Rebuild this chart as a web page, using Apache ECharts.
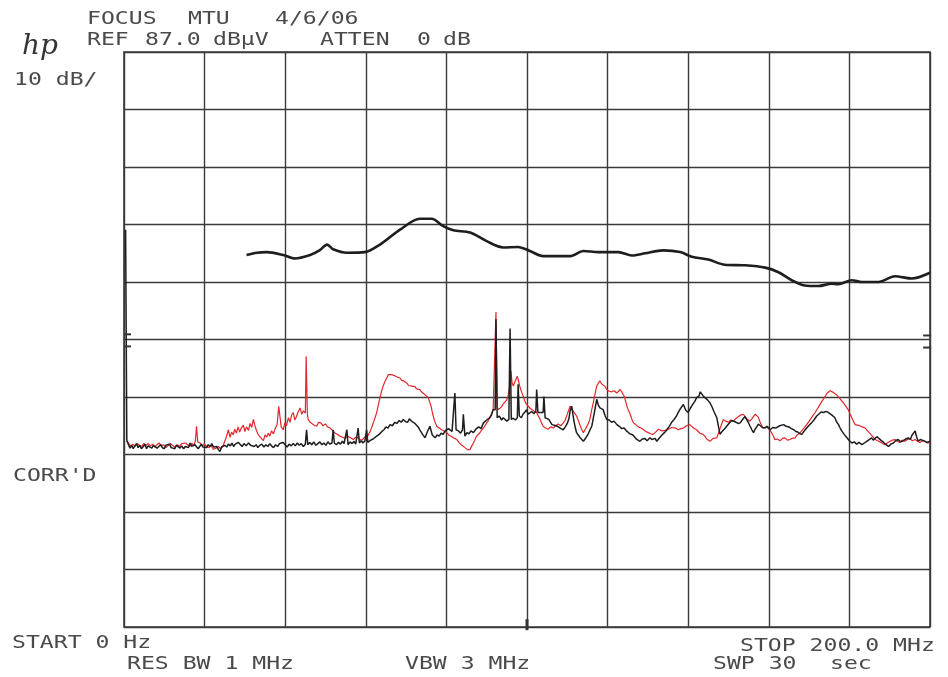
<!DOCTYPE html>
<html>
<head>
<meta charset="utf-8">
<script src="https://cdn.jsdelivr.net/npm/echarts@6/dist/echarts.min.js"></script>
<style>
  html, body { margin: 0; padding: 0; background: #fff; }
  #chart { width: 948px; height: 677px; }
</style>
</head>
<body>
<div id="chart"></div>
<script>
// analyzer settings
let refLevel = 87;      // dBuV at top line
let dbPerDiv = 10;
let startMHz = 0;
let stopMHz = 200;

// [MHz, dBuV]
let upperTrace = [
  [30.4,51.7],[33,52.1],[35.4,52.2],[39.5,51.7],[42.4,51.1],[46.2,51.7],[48.5,52.5],[50.4,53.5],
  [51.9,52.7],[55.3,52.1],[59.8,52.2],[63.5,53.5],[68.5,56.1],[73.4,58.0],[76.4,58.0],[79.2,56.7],
  [81.7,56.0],[85.9,55.6],[90.0,54.1],[94.1,53.0],[97.8,53.1],[100.7,52.4],[104.0,51.5],[110.7,51.5],
  [114.0,52.4],[117.7,52.2],[122.7,52.2],[126.0,51.6],[129.3,52.0],[133.8,52.5],[138.0,52.2],[140.9,51.4],
  [145.0,50.9],[149.1,50.0],[154.1,49.9],[159.1,49.5],[162.4,48.7],[165.7,47.3],[168.9,46.4],[172.3,46.3],
  [175.6,46.7],[177.2,46.6],[180.6,47.3],[183.1,47.0],[187.2,47.0],[191.3,48.0],[195.5,47.6],[200,48.6]
];

let blackTrace = [
  [0.4,56.1],[0.7,19.5],[1.1,18.7],[1.5,18.1],[1.9,18.6],[2.3,18.0],[2.7,18.5],[3.1,18.9],[3.5,18.2],
  [3.9,18.6],[4.3,18.0],[4.8,18.4],[5.2,18.8],[5.6,18.0],[6.0,18.5],[6.4,18.7],[6.9,18.1],[7.3,18.6],
  [7.7,18.9],[8.2,18.1],[8.6,18.4],[9.1,18.7],[9.5,18.2],[10.0,18.0],[10.4,18.6],[10.8,18.3],[11.3,18.8],
  [11.7,18.2],[12.1,18.5],[12.6,18.0],[13.0,18.6],[13.4,18.3],[13.9,18.1],[14.3,18.5],[14.8,18.0],[15.2,18.4],
  [15.6,18.7],[16.0,18.2],[16.4,19.0],[16.8,18.4],[17.2,18.2],[17.6,18.7],[18.0,18.5],[18.4,18.0],[18.8,18.4],
  [19.2,18.8],[19.6,18.3],[20.0,18.6],[20.5,18.2],[20.9,18.7],[21.4,18.4],[21.8,18.9],[22.2,18.3],[22.6,18.1],
  [23.0,18.4],[23.4,17.9],[23.8,17.5],[24.2,18.3],[24.6,18.0],[25.0,18.6],[25.5,18.3],[25.9,18.8],[26.4,18.5],
  [26.8,19.0],[27.2,18.4],[27.6,18.8],[28.0,18.5],[28.4,19.1],[28.8,18.8],[29.3,18.4],[29.8,18.9],[30.3,18.5],
  [30.9,19.0],[31.4,18.6],[31.8,18.9],[32.3,18.4],[32.8,18.7],[33.2,18.2],[33.7,18.6],[34.2,18.8],[34.7,18.3],
  [35.2,18.7],[35.7,18.4],[36.2,18.9],[36.6,18.5],[37.1,18.2],[37.6,18.7],[38.1,18.4],[38.6,18.9],[39.0,18.6],
  [39.5,19.1],[40.0,18.7],[40.5,18.3],[41.0,18.8],[41.5,18.5],[42.0,18.9],[42.5,18.5],[43.0,19.0],[43.5,18.6],
  [44.0,18.9],[44.5,18.4],[45.0,18.8],[45.3,21.3],[45.6,18.7],[46.1,19.1],[46.6,18.7],[47.1,19.2],[47.6,18.6],
  [48.1,18.9],[48.6,19.2],[49.1,18.7],[49.6,19.0],[50.1,18.6],[50.6,19.2],[51.1,18.8],[51.6,19.0],[51.9,21.3],
  [52.2,19.0],[52.7,18.7],[53.2,19.1],[53.7,18.8],[54.2,19.3],[54.6,18.9],[55.0,18.7],[55.3,21.3],[55.6,18.7],
  [56.1,19.2],[56.6,18.9],[57.1,19.3],[57.5,18.8],[57.8,19.0],[58.1,21.6],[58.4,19.0],[58.9,19.4],[59.3,19.0],
  [59.8,19.4],[60.2,21.3],[60.5,19.1],[61.0,19.4],[61.4,19.2],[61.8,19.7],[62.2,19.9],[62.7,20.2],[63.3,20.5],
  [64.0,21.0],[64.5,21.3],[65.0,21.8],[65.5,21.6],[66.0,22.2],[66.6,22.0],[67.2,22.6],[67.7,22.4],[68.3,22.9],
  [68.8,22.6],[69.3,23.1],[69.9,22.7],[70.4,22.6],[70.8,23.2],[71.1,23.3],[71.5,22.7],[71.8,22.8],[72.2,22.4],
  [72.6,22.1],[73.0,21.8],[73.4,21.3],[74.1,20.5],[74.7,19.9],[75.3,21.0],[75.9,21.9],[76.5,20.4],[77.2,19.9],
  [77.7,20.4],[78.2,20.2],[78.7,20.7],[79.2,20.5],[79.7,21.1],[80.1,21.0],[80.5,21.5],[80.9,21.3],[81.4,21.0],
  [81.8,21.3],[82.1,27.7],[82.4,21.3],[83.0,21.1],[83.5,20.7],[84.0,21.3],[84.2,24.0],[84.6,20.2],[85.1,20.8],
  [85.6,20.6],[86.1,21.1],[86.7,20.8],[87.3,21.4],[88.0,21.8],[88.6,21.5],[89.2,22.5],[89.6,22.2],[90.0,23.0],
  [90.4,22.7],[90.8,23.4],[91.2,23.9],[91.6,24.8],[92.1,24.8],[92.3,40.5],[92.6,23.4],[93.1,23.7],[93.7,23.0],
  [94.1,23.4],[94.5,23.1],[95.0,22.8],[95.5,23.1],[95.8,38.9],[96.1,23.1],[96.6,23.3],[97.1,23.0],[97.6,23.4],
  [97.8,29.2],[98.1,23.7],[98.6,23.4],[99.0,24.0],[99.5,24.4],[99.9,24.8],[100.3,24.0],[100.6,24.2],[101.2,24.5],
  [101.7,24.1],[102.2,24.5],[102.4,28.3],[102.7,24.3],[103.2,24.3],[103.6,24.0],[104.0,24.3],[104.2,27.1],
  [104.5,23.4],[104.9,23.4],[105.4,23.1],[105.8,22.9],[106.2,22.2],[106.5,22.5],[107.2,22.0],[107.8,21.8],
  [108.4,21.5],[109.0,21.3],[109.5,21.8],[110.0,22.4],[110.4,23.2],[110.7,24.6],[111.1,25.4],[111.6,23.0],
  [112.0,21.6],[112.3,20.8],[112.8,20.3],[113.2,19.9],[113.6,19.6],[114.0,19.3],[114.4,19.7],[114.8,20.1],
  [115.2,20.6],[115.6,20.8],[116.1,22.0],[116.5,23.5],[116.9,25.0],[117.3,26.6],[117.7,25.6],[118.1,25.1],
  [118.5,25.4],[118.9,24.8],[119.4,23.7],[119.8,23.1],[120.4,23.0],[121.0,22.6],[121.6,22.8],[122.3,22.2],
  [122.9,21.9],[123.5,21.5],[124.1,21.6],[124.7,21.1],[125.5,20.6],[126.3,20.4],[127.1,19.7],[128.0,19.3],
  [128.6,19.7],[129.2,19.8],[129.8,19.4],[130.5,19.9],[131.0,19.6],[131.4,19.4],[131.8,19.8],[132.2,19.3],
  [132.9,19.9],[133.5,20.4],[134.1,20.8],[134.7,21.3],[135.3,21.9],[135.9,22.6],[136.5,23.1],[137.1,23.7],
  [137.6,24.4],[138.0,24.9],[138.4,25.3],[138.8,25.7],[139.4,24.7],[140.0,24.3],[140.5,25.0],[141.0,25.6],
  [141.6,26.2],[142.1,26.9],[142.7,27.2],[143.0,27.9],[143.3,27.7],[143.8,27.1],[144.3,26.8],[144.8,26.5],
  [145.4,26.0],[145.9,25.3],[146.3,24.6],[146.7,24.0],[147.1,23.4],[147.5,21.9],[147.9,20.5],[148.3,20.9],
  [148.7,21.0],[149.2,21.6],[149.6,21.9],[150.0,22.3],[150.4,22.6],[150.8,22.9],[151.2,23.1],[151.6,22.7],
  [152.0,22.8],[152.4,22.4],[152.9,22.5],[153.3,22.9],[153.7,23.0],[154.1,23.6],[154.5,23.4],[154.9,22.6],
  [155.3,22.0],[155.8,21.3],[156.2,20.8],[156.6,21.4],[157.0,21.8],[157.4,22.3],[157.8,22.2],[158.4,21.7],
  [159.0,21.6],[159.6,21.9],[160.3,21.3],[161.0,21.7],[161.7,21.6],[162.7,22.0],[163.7,22.2],[164.3,21.9],
  [165.0,21.8],[165.6,21.5],[166.2,21.3],[166.7,21.0],[167.2,20.9],[167.7,20.6],[168.2,20.5],[168.8,21.1],
  [169.4,21.6],[170.0,22.1],[170.6,22.5],[171.1,22.9],[171.5,23.3],[171.9,23.7],[172.3,24.0],[173.0,24.4],
  [173.6,24.3],[174.2,24.5],[174.8,24.3],[175.2,24.1],[175.6,23.9],[176.0,23.6],[176.4,23.4],[176.8,22.7],
  [177.3,22.2],[177.7,21.6],[178.1,21.1],[178.7,20.5],[179.3,20.0],[180.0,19.4],[180.6,19.0],[181.2,19.2],
  [181.8,18.8],[182.4,19.1],[183.1,18.7],[183.7,19.0],[184.3,19.3],[184.9,19.6],[185.5,19.9],[185.9,19.5],
  [186.3,19.7],[186.8,20.1],[187.2,19.9],[187.8,19.5],[188.5,19.1],[189.1,18.7],[189.7,18.4],[190.3,18.8],
  [190.9,19.0],[191.5,19.4],[192.1,19.6],[192.7,19.2],[193.4,19.4],[194.0,19.7],[194.6,19.9],[195.1,19.6],
  [195.5,20.3],[195.9,20.6],[196.3,21.1],[196.7,20.0],[197.1,19.3],[197.6,19.6],[198.0,19.8],[198.4,19.4],
  [198.8,19.6],[199.2,19.1],[199.5,19.2],[200,19.3]
];

let redTrace = [
  [0.6,19.4],[1.1,19.0],[1.6,18.5],[2.2,18.8],[2.7,18.4],[3.3,18.9],[3.8,18.6],[4.4,18.4],[4.9,18.9],
  [5.5,18.6],[6.0,18.9],[6.5,18.5],[7.1,18.8],[7.6,18.3],[8.2,18.7],[8.7,19.0],[9.3,18.5],[9.8,18.7],
  [10.4,18.2],[10.9,18.5],[11.5,18.9],[12.0,18.6],[12.6,18.3],[13.2,18.7],[13.8,18.4],[14.3,18.9],[14.7,18.6],
  [15.3,19.0],[15.8,18.7],[16.3,18.4],[16.8,18.9],[17.3,18.6],[17.7,19.3],[18.0,21.9],[18.3,19.2],[18.9,19.0],
  [19.4,18.5],[20.0,18.8],[20.5,18.4],[21.1,18.2],[21.6,18.6],[22.2,17.9],[22.8,18.1],[23.4,18.4],[24.0,18.0],
  [24.6,18.5],[25.0,19.3],[25.3,19.8],[25.9,21.3],[26.3,20.0],[26.7,20.9],[27.1,20.4],[27.5,21.4],[27.9,20.7],
  [28.3,21.8],[28.7,20.9],[29.1,21.6],[29.6,22.1],[30.0,21.0],[30.4,21.8],[30.9,21.2],[31.3,22.4],[31.7,21.7],
  [32.1,23.1],[32.5,22.0],[32.8,21.3],[33.2,20.6],[33.6,20.2],[34.1,19.8],[34.6,19.4],[35.0,20.4],[35.4,20.0],
  [35.8,20.7],[36.2,20.2],[36.6,21.1],[37.1,20.6],[37.5,21.5],[38.0,22.2],[38.4,25.4],[38.7,25.4],[39.0,21.8],
  [39.5,21.3],[39.9,22.5],[40.3,22.0],[40.8,23.4],[41.2,22.6],[41.6,23.9],[42.0,24.3],[42.4,23.0],[42.8,23.6],
  [43.2,24.4],[43.7,25.1],[44.1,24.0],[44.5,24.6],[45.0,24.2],[45.2,34.1],[45.5,24.0],[45.7,23.1],[46.2,22.6],
  [46.6,22.9],[47.2,22.1],[47.8,21.9],[48.3,22.6],[48.8,22.5],[49.4,22.0],[50.0,22.3],[50.5,21.8],[51.1,21.6],
  [51.7,21.2],[52.3,20.8],[52.9,20.5],[53.6,20.2],[54.2,20.0],[54.9,19.8],[55.4,20.2],[56.0,20.0],[56.4,19.7],
  [56.9,19.6],[57.5,20.0],[58.2,19.9],[58.7,19.5],[59.2,19.6],[59.7,20.0],[60.2,19.9],[60.7,20.5],[61.2,21.2],
  [61.6,22.0],[62.0,22.8],[62.4,23.6],[62.7,24.3],[63.1,25.6],[63.5,26.8],[63.9,28.0],[64.3,28.9],[64.7,29.6],
  [65.2,30.3],[65.6,30.9],[66.0,31.2],[66.4,30.9],[66.8,30.8],[67.2,30.7],[67.6,30.6],[68.0,30.4],[68.5,30.3],
  [68.9,29.9],[69.4,29.8],[69.8,29.5],[70.2,29.4],[70.6,29.0],[71.0,28.9],[71.4,28.9],[71.8,28.7],[72.2,28.8],
  [72.6,28.4],[73.0,28.5],[73.4,28.3],[73.8,27.9],[74.2,27.7],[74.7,27.4],[75.1,27.1],[75.5,26.9],[75.9,26.6],
  [76.2,25.4],[76.6,24.0],[77.1,22.8],[77.6,21.9],[78.2,21.6],[78.8,21.3],[79.4,21.1],[80.1,20.8],[80.7,20.3],
  [81.4,20.1],[82.0,19.8],[82.6,19.6],[83.1,19.1],[83.6,18.7],[84.1,18.5],[84.6,18.2],[85.0,18.4],[85.3,17.8],
  [85.9,17.9],[86.3,18.5],[86.7,19.0],[87.1,19.6],[87.5,20.2],[88.1,20.6],[88.7,21.2],[89.3,21.7],[90.0,22.5],
  [90.4,22.9],[90.8,23.5],[91.2,24.1],[91.6,24.8],[92.0,25.0],[92.3,41.8],[92.6,25.2],[92.9,24.8],[93.3,25.1],
  [93.7,25.3],[94.1,25.8],[94.5,26.0],[94.9,26.4],[95.3,27.1],[95.7,29.0],[96.0,31.5],[96.3,29.5],[96.6,28.9],
  [97.1,29.8],[97.6,30.6],[98.0,29.5],[98.3,28.6],[98.7,27.8],[99.1,27.1],[99.4,26.4],[99.7,25.9],[100.3,25.4],
  [100.8,25.0],[101.3,24.8],[101.8,24.5],[102.4,24.3],[102.8,23.7],[103.2,23.2],[103.6,22.5],[104.0,21.9],
  [104.6,21.6],[105.2,21.4],[105.9,21.8],[106.5,21.6],[107.1,22.0],[107.7,22.3],[108.4,22.0],[109.0,22.5],
  [109.5,23.0],[109.9,23.8],[110.3,24.6],[110.7,25.4],[111.1,24.9],[111.5,24.6],[111.9,24.1],[112.3,23.7],
  [112.8,22.8],[113.2,22.0],[113.6,21.3],[114.0,20.8],[114.4,21.3],[114.8,21.8],[115.2,22.4],[115.6,23.1],
  [116.0,24.6],[116.5,26.2],[116.9,27.6],[117.3,28.9],[117.7,29.4],[118.1,29.8],[118.5,29.3],[118.9,29.5],
  [119.4,28.8],[119.8,28.3],[120.4,28.0],[121.0,27.9],[121.6,28.1],[122.3,27.7],[122.7,28.0],[123.1,28.3],
  [123.5,27.9],[123.9,27.7],[124.2,27.0],[124.5,26.2],[124.8,25.4],[125.1,24.8],[125.5,24.2],[125.8,23.6],
  [126.1,23.0],[126.4,22.5],[127.0,22.2],[127.6,21.8],[128.3,21.6],[128.9,21.3],[129.5,21.0],[130.1,20.8],
  [130.7,20.6],[131.3,20.5],[131.8,20.8],[132.2,21.0],[132.6,21.4],[133.0,21.3],[133.5,21.1],[133.9,20.9],
  [134.3,21.2],[134.7,21.1],[135.1,21.4],[135.5,21.6],[135.9,21.7],[136.3,21.9],[136.9,21.6],[137.5,21.3],
  [138.2,21.5],[138.8,21.6],[139.2,21.8],[139.6,22.0],[140.0,22.3],[140.4,22.2],[140.8,21.9],[141.3,21.6],
  [141.7,21.5],[142.1,21.3],[142.5,21.0],[142.9,20.7],[143.3,20.8],[143.7,20.5],[144.2,20.1],[144.6,19.7],
  [145.0,19.5],[145.4,19.3],[145.8,19.6],[146.2,19.8],[146.6,19.6],[147.1,19.9],[147.5,20.7],[147.9,21.5],
  [148.3,22.3],[148.7,23.1],[149.3,22.8],[150.0,22.6],[150.6,23.0],[151.2,22.8],[151.9,23.3],[152.5,23.6],
  [153.1,23.9],[153.7,24.0],[154.1,23.6],[154.5,23.2],[154.9,22.9],[155.3,22.8],[155.8,23.2],[156.2,23.6],
  [156.6,24.0],[157.0,24.3],[157.4,23.5],[157.8,22.7],[158.2,22.1],[158.6,21.6],[159.0,21.9],[159.4,21.8],
  [159.8,21.5],[160.3,21.3],[160.6,20.9],[161.0,20.4],[161.5,19.6],[162.1,19.7],[162.8,19.4],[163.4,19.8],
  [164.0,19.9],[164.6,19.5],[165.2,19.6],[165.8,19.8],[166.5,19.9],[166.9,20.3],[167.3,20.6],[167.8,20.8],
  [168.2,21.1],[169.0,21.8],[169.8,22.6],[170.6,23.4],[171.5,24.3],[172.1,25.0],[172.8,25.8],[173.4,26.5],
  [174.0,27.1],[174.4,27.6],[174.8,27.9],[175.2,28.1],[175.6,28.0],[176.0,27.8],[176.4,27.6],[176.8,27.4],
  [177.2,27.1],[177.8,26.6],[178.5,26.0],[179.1,25.4],[179.7,24.8],[180.2,24.0],[180.6,23.4],[181.0,22.8],
  [181.4,22.2],[182.0,22.1],[182.6,22.0],[183.2,21.8],[183.9,21.6],[184.5,21.1],[185.2,20.6],[185.8,20.1],
  [186.4,19.6],[187.0,19.4],[187.6,19.2],[188.2,18.9],[188.8,18.7],[189.4,19.0],[190.1,19.3],[190.7,19.5],
  [191.3,19.6],[191.9,19.3],[192.5,19.1],[193.1,19.5],[193.8,19.3],[194.4,19.6],[195.0,19.8],[195.6,19.4],
  [196.3,19.6],[196.9,19.3],[197.5,19.1],[198.1,19.4],[198.8,19.3],[199.4,19.0],[200,19.0]
];

// analyzer reference marks: [MHz, division, width, height]
let frameMarks = [
  [100, 0.04, 3, 11],
  [199.3, 5.07, 8, 2], [199.3, 4.86, 8, 2],
  [1.0, 5.09, 6, 2], [1.0, 4.88, 6, 2]
];

let headerTexts = [
  ['FOCUS', 87, 20], ['MTU', 188, 20], ['4/6/06', 275, 20],
  ['REF', 87, 41], ['87.0', 145, 41], ['dBµV', 213, 41],
  ['ATTEN', 320, 41], ['0', 417, 41], ['dB', 443, 41],
  ['10 dB/', 14, 81], ['CORR\'D', 13, 477],
  ['START 0 Hz', 12, 644], ['STOP 200.0 MHz', 740, 647],
  ['RES BW 1 MHz', 127, 665], ['VBW 3 MHz', 405, 665], ['SWP 30', 713, 665], ['sec', 830, 665]
];

let plotterFont = '"DejaVu Sans Mono", monospace';
let textColor = '#4a4a4a';
let gridColor = '#3a3a3a';

// dBuV -> divisions above the bottom graticule line
function toDiv(points) {
  return points.map(function(p) {
    return [p[0], (p[1] - refLevel) / dbPerDiv + 10];
  });
}

function makeText(t) {
  return {
    type: 'text',
    x: t[1],
    y: t[2],
    scaleX: 1.36,
    silent: true,
    style: {
      text: t[0],
      font: '17px ' + plotterFont,
      fill: textColor,
      verticalAlign: 'middle',
      align: 'left'
    }
  };
}

let graphics = headerTexts.map(makeText);
graphics.push({
  type: 'text',
  x: 22,
  y: 47,
  silent: true,
  style: {
    text: 'hp',
    font: 'italic 28px "DejaVu Serif", serif',
    fill: '#333',
    verticalAlign: 'middle'
  }
});

let chart = echarts.init(document.getElementById('chart'), null, { renderer: 'canvas' });
chart.setOption({
  animation: false,
  backgroundColor: '#fff',
  grid: {
    left: 124,
    top: 52,
    right: 18,
    bottom: 50,
    show: true,
    borderColor: gridColor,
    borderWidth: 1.6
  },
  xAxis: {
    type: 'value',
    min: startMHz,
    max: stopMHz,
    interval: 20,
    axisLine: { show: false },
    axisTick: { show: false },
    axisLabel: { show: false },
    splitLine: { lineStyle: { color: gridColor, width: 1.4 } }
  },
  yAxis: {
    type: 'value',
    min: 0,
    max: 10,
    interval: 1,
    axisLine: { show: false },
    axisTick: { show: false },
    axisLabel: { show: false },
    splitLine: { lineStyle: { color: gridColor, width: 1.4 } }
  },
  series: [
    {
      name: 'red',
      type: 'line',
      data: toDiv(redTrace),
      showSymbol: false,
      lineStyle: { color: '#e3262b', width: 1.2 },
      z: 3
    },
    {
      name: 'black',
      type: 'line',
      data: toDiv(blackTrace),
      showSymbol: false,
      lineStyle: { color: '#1e1e1e', width: 1.5 },
      z: 4
    },
    {
      name: 'upper',
      type: 'line',
      data: toDiv(upperTrace),
      showSymbol: false,
      smooth: 0.3,
      lineStyle: { color: '#1e1e1e', width: 2.6 },
      z: 4,
      markPoint: {
        silent: true,
        label: { show: false },
        itemStyle: { color: '#333' },
        data: frameMarks.map(function(m) {
          return { coord: [m[0], m[1]], symbol: 'rect', symbolSize: [m[2], m[3]] };
        })
      }
    }
  ],
  graphic: graphics
});
</script>
</body>
</html>
